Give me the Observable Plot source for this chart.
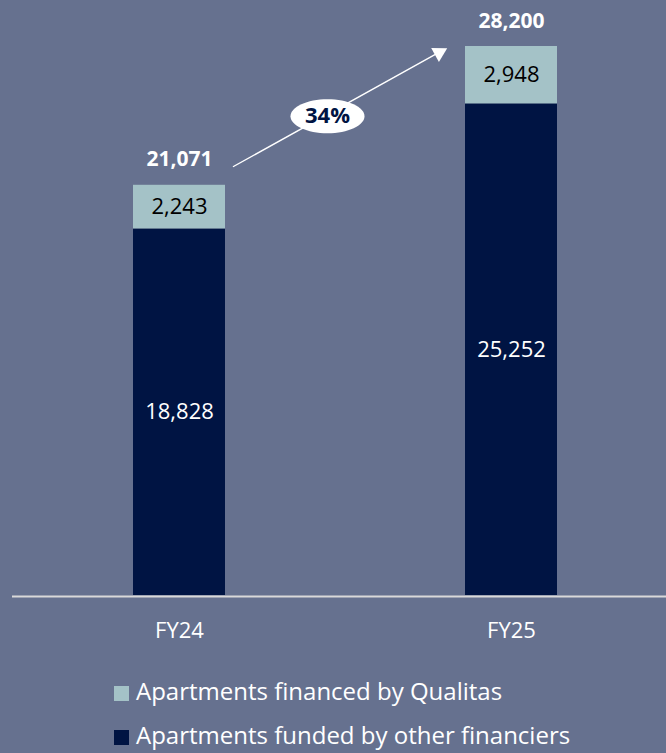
<!DOCTYPE html>
<html>
<head>
<meta charset="utf-8">
<script src="https://cdn.jsdelivr.net/npm/d3@7"></script>
<script src="https://cdn.jsdelivr.net/npm/@observablehq/plot@0.6"></script>
<style>
  html, body { margin: 0; padding: 0; background: #66718F; }
  body { width: 666px; height: 753px; overflow: hidden; font-family: "Open Sans", sans-serif; }
  #chart svg { display: block; }
  .legend { padding-left: 114px; color: #ffffff; font-size: 24px; }
  .legend .row { height: 44px; line-height: 44px; display: flex; align-items: center; white-space: nowrap; }
  .legend .sw { width: 15px; height: 15px; margin-right: 7px; flex: none; position: relative; top: 2px; }
</style>
</head>
<body>
<div id="chart"></div>
<div class="legend" id="legend"></div>
<script>
// ---- data ----
const years = ["FY24", "FY25"];
const seriesNames = ["Apartments funded by other financiers", "Apartments financed by Qualitas"];
const otherFinanciers = [18828, 25252];
const qualitas = [2243, 2948];
const seriesColors = ["#001443", "#A4C2C7"];

// ---- derived tables ----
const rows = [];
years.forEach((y, i) => {
  rows.push({year: y, series: seriesNames[0], value: otherFinanciers[i], mid: otherFinanciers[i] / 2, label: "white"});
  rows.push({year: y, series: seriesNames[1], value: qualitas[i], mid: otherFinanciers[i] + qualitas[i] / 2, label: "black"});
});
const totals = years.map((y, i) => ({year: y, total: otherFinanciers[i] + qualitas[i]}));
const growth = Math.round((totals[1].total / totals[0].total - 1) * 100);
const fmt = d3.format(",");

// annotation anchors (line through the two bar tops, extended to band centres)
const arrowRow = [{x1: years[0], y1: totals[0].total - 573, x2: years[1], y2: totals[1].total + 1764}];

// custom ellipse symbol for the growth bubble
const ellipseSymbol = {
  draw(ctx) {
    const rx = 37, ry = 17, k = 0.5523;
    ctx.moveTo(rx, 0);
    ctx.bezierCurveTo(rx, k * ry, k * rx, ry, 0, ry);
    ctx.bezierCurveTo(-k * rx, ry, -rx, k * ry, -rx, 0);
    ctx.bezierCurveTo(-rx, -k * ry, -k * rx, -ry, 0, -ry);
    ctx.bezierCurveTo(k * rx, -ry, rx, -k * ry, rx, 0);
    ctx.closePath();
  }
};

const chart = Plot.plot({
  width: 666,
  height: 669,
  marginTop: 46,
  marginBottom: 74,
  marginLeft: 65.4,
  marginRight: 42.4,
  style: {background: "transparent", fontFamily: "Open Sans, sans-serif", fontSize: "22px", color: "#ffffff"},
  x: {domain: years, paddingInner: 0.7237, paddingOuter: 0.2, label: null, tickSize: 0, tickPadding: 27},
  y: {domain: [0, totals[1].total], axis: null},
  color: {domain: seriesNames, range: seriesColors},
  marks: [
    Plot.barY(rows, {x: "year", y: "value", fill: "series"}),
    Plot.ruleY([0], {stroke: "#D9D9D9", strokeWidth: 2, dy: 1, insetLeft: -53.4, insetRight: -42.4}),
    Plot.text(rows.filter(d => d.label === "white"), {x: "year", y: "mid", text: d => fmt(d.value), fill: "#ffffff", fontSize: 22}),
    Plot.text(rows.filter(d => d.label === "black"), {x: "year", y: "mid", text: d => fmt(d.value), fill: "#000000", fontSize: 22}),
    Plot.text(totals, {x: "year", y: "total", text: d => fmt(d.total), lineAnchor: "bottom", dy: -19, fill: "#ffffff", fontWeight: "bold", fontSize: 21}),
    Plot.arrow(arrowRow, {x1: "x1", y1: "y1", x2: "x2", y2: "y2", stroke: "#ffffff", strokeWidth: 1.4, headLength: 0, insetStart: 61.7, insetEnd: 84}),
    Plot.dot([totals[1]], {x: "year", y: "total", symbol: "triangle", r: 5.94, rotate: 61.2, fill: "#ffffff", stroke: "none", dx: -72.4, dy: 6.2}),
    Plot.dot([totals[0]], {x: "year", y: "total", symbol: ellipseSymbol, r: 10, fill: "#ffffff", stroke: "none", dx: 148, dy: -69}),
    Plot.text([totals[0]], {x: "year", y: "total", text: () => growth + "%", dx: 148, dy: -69, fill: "#001443", fontWeight: "bold", fontSize: 22})
  ]
});
document.getElementById("chart").appendChild(chart);

// legend (top row: Qualitas, bottom row: other financiers)
const legend = document.getElementById("legend");
[1, 0].forEach(i => {
  const row = document.createElement("div");
  row.className = "row";
  const sw = document.createElement("span");
  sw.className = "sw";
  sw.style.background = seriesColors[i];
  const t = document.createElement("span");
  t.textContent = seriesNames[i];
  row.appendChild(sw);
  row.appendChild(t);
  legend.appendChild(row);
});
</script>
</body>
</html>
